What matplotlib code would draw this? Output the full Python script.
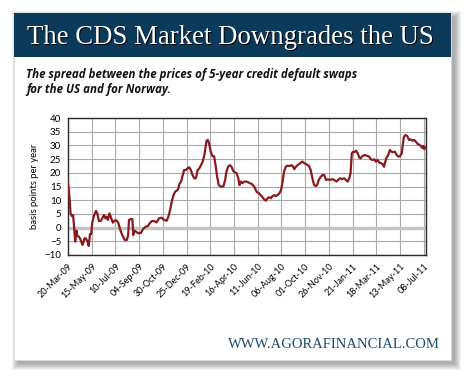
import matplotlib
matplotlib.use("Agg")
import matplotlib.pyplot as plt
import matplotlib.dates as mdates
from matplotlib.patches import Rectangle
import datetime as dt

# --- datos ---
start = dt.date(2009, 3, 20)
# dias desde 20-Mar-09
days = [0, 2, 4, 6, 9, 12, 14, 17, 20, 22, 26, 30, 34, 36, 39, 42, 46, 49, 52, 55,
        57, 61, 66, 69, 73, 77, 81, 85, 88, 91, 94, 98, 102, 106, 110, 115, 119, 123,
        128, 134, 139, 142, 144, 148, 152, 154, 157, 161, 165, 172, 177, 183, 189, 193,
        198, 203, 209, 215, 221, 227, 233, 237, 241, 245, 249, 253, 257, 260, 263, 267,
        271, 274, 278, 282, 286, 290, 294, 298, 302, 306, 310, 314, 318, 322, 325, 327,
        330, 333, 337, 341, 345, 349, 352, 356, 361, 367, 371, 374, 378, 382, 386, 390,
        394, 398, 402, 405, 408, 412, 416, 422, 427, 434, 440, 445, 451, 457, 463, 467,
        471, 475, 479, 483, 487, 491, 495, 499, 503, 506, 510, 514, 518, 524, 528, 532,
        534, 538, 542, 548, 553, 558, 563, 569, 573, 577, 581, 585, 588, 592, 597, 601,
        605, 609, 613, 618, 624, 628, 634, 638, 642, 647, 652, 656, 660, 664, 667, 670,
        673, 676, 680, 684, 688, 691, 695, 701, 706, 711, 715, 719, 723, 727, 731, 735,
        739, 743, 746, 748, 752, 756, 760, 764, 768, 772, 776, 780, 784, 788, 790, 793,
        797, 801, 805, 809, 813, 817, 821, 825, 829, 833, 836, 839, 841, 843]
spread = [16.4, 13.7, 10.0, 5.2, 4.2, 4.6, 1.0, -5.1, -1.1, -3.1, -3.3, -4.5, -6.3, -5.5,
          -3.9, -3.9, -5.1, -6.7, -2.3, -2.3, 1.6, 4.2, 6.1, 5.2, 2.4, 2.4, 3.4, 4.6, 3.4,
          4.0, 2.8, 5.2, 3.4, 1.8, 2.6, 2.6, 1.6, -0.6, -2.7, -4.5, -4.5, -2.7, 2.8, 3.1,
          3.1, -2.7, -1.1, -1.5, -2.0, -2.0, -0.6, 0.3, 0.6, 1.6, 2.4, 2.4, 1.9, 3.4, 3.6,
          2.8, 2.5, 4.0, 6.4, 9.5, 11.9, 13.1, 13.5, 14.0, 15.9, 16.8, 19.2, 21.0, 21.0,
          21.6, 22.0, 21.0, 19.2, 18.0, 18.0, 21.0, 21.6, 22.8, 24.1, 26.5, 29.5, 31.7,
          32.0, 30.8, 27.7, 26.1, 26.0, 22.2, 18.6, 15.5, 14.9, 15.1, 17.4, 20.4, 22.2,
          22.8, 22.2, 20.7, 20.1, 19.9, 18.0, 15.5, 16.8, 16.2, 16.8, 16.8, 16.4, 15.9,
          14.9, 13.1, 12.5, 11.5, 10.3, 9.8, 10.7, 11.1, 10.7, 11.5, 11.9, 11.5, 11.9,
          12.5, 13.7, 16.2, 20.4, 22.2, 22.6, 22.5, 22.8, 22.2, 21.3, 22.2, 22.8, 23.5,
          24.1, 23.5, 23.1, 22.5, 21.0, 18.0, 15.5, 15.2, 15.5, 17.4, 18.6, 19.2, 19.2,
          17.4, 17.6, 17.4, 17.7, 17.4, 16.8, 17.4, 18.0, 17.7, 18.0, 17.4, 16.8, 18.0,
          19.8, 27.1, 27.7, 27.5, 28.1, 27.1, 25.5, 25.3, 26.1, 26.5, 26.2, 25.9, 24.9,
          24.7, 24.9, 24.1, 24.7, 23.7, 23.5, 23.1, 22.2, 23.5, 25.5, 26.5, 28.3, 27.7,
          27.5, 27.7, 26.5, 25.9, 26.1, 27.1, 29.8, 33.2, 33.8, 33.4, 32.0, 32.2, 31.7,
          32.0, 31.4, 30.6, 30.3, 29.8, 29.1, 29.8, 28.6, 29.3]

title = "The CDS Market Downgrades the US"
subtitle = ["The spread between the prices of 5-year credit default swaps",
            "for the US and for Norway."]
footer = "WWW.AGORAFINANCIAL.COM"

fechas = [start + dt.timedelta(days=d) for d in days]
ticks = [start + dt.timedelta(days=56 * i) for i in range(16)]

W, H = 470, 381
fig = plt.figure(figsize=(W / 100, H / 100), dpi=100)

# fondo: tarjeta con sombra y cabecera
bg = fig.add_axes([0, 0, 1, 1])
bg.set_xlim(0, W)
bg.set_ylim(H, 0)
bg.axis("off")
cx0, cy0, cx1, cy1 = 13.5, 13, 451, 360
for k in range(7):
    bg.add_patch(Rectangle((cx0 + 4 - k, cy0 + 4 - k), cx1 - cx0 + 2 * k, cy1 - cy0 + 2 * k,
                           facecolor="black", edgecolor="none", alpha=0.05))
bg.add_patch(Rectangle((cx0, cy0), cx1 - cx0, cy1 - cy0, facecolor="white", edgecolor="#d8d8d8", lw=0.5))
bg.add_patch(Rectangle((cx0, cy0), cx1 - cx0, 43.5, facecolor="#0c3a5a", edgecolor="none"))

bg.text(231.3, 45.3, title, color="black", fontsize=19.3, family="Liberation Serif",
        ha="center", va="baseline")
bg.text(230, 44, title, color="white", fontsize=19.3, family="Liberation Serif",
        ha="center", va="baseline")
for i, line in enumerate(subtitle):
    bg.text(26, 78 + 15 * i, line, fontsize=8.3, family="Open Sans", fontweight="bold",
            style="italic", va="baseline", color="#111111")
bg.text(440, 348, footer, fontsize=10.5, family="Liberation Serif", color="#1d4b6e",
        ha="right", va="baseline")

# grafico
ax = fig.add_axes([68 / W, 1 - 255 / H, 357.5 / W, 137 / H])
ax.plot(fechas, spread, color="#8b1a1f", lw=1.6, zorder=3)
ax.axhline(0, color="#c4c4c4", lw=2.5, zorder=2)
ax.set_xlim(start, start + dt.timedelta(days=844))
ax.set_ylim(-10, 40)
ax.set_yticks(range(-10, 41, 5))
ax.set_xticks(ticks)
ax.xaxis.set_major_formatter(mdates.DateFormatter("%d-%b-%y"))
ax.grid(True, color="#a8a8a8", lw=0.8, zorder=1)
ax.tick_params(length=0, labelsize=7, pad=5)
for lab in ax.get_yticklabels():
    lab.set_family("Lato")
for lab in ax.get_xticklabels():
    lab.set_rotation(45)
    lab.set_ha("right")
    lab.set_va("top")
    lab.set_rotation_mode("anchor")
    lab.set_family("Lato")
    lab.set_fontsize(6.5)
for s in ax.spines.values():
    s.set_color("#2a2a2a")
    s.set_linewidth(1)
ax.set_ylabel("basis points per year", fontsize=6.8, family="Lato", labelpad=4)

fig.savefig("out.png", dpi=100)
